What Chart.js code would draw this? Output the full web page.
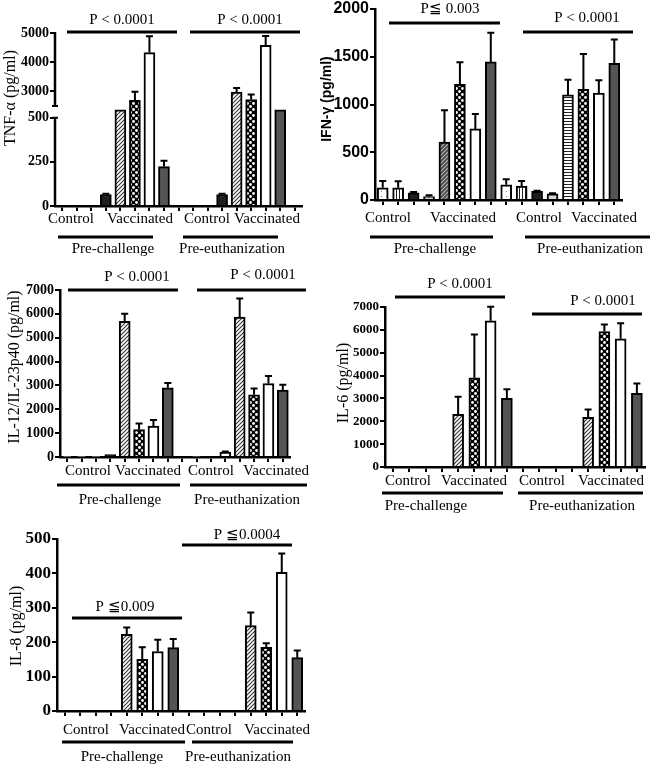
<!DOCTYPE html>
<html>
<head>
<meta charset="utf-8">
<script src="https://cdn.jsdelivr.net/npm/chart.js@4.4.1/dist/chart.umd.min.js"></script>
<style>
  html, body { margin: 0; padding: 0; background: #fff; }
  #fig { position: relative; width: 650px; height: 767px; overflow: hidden; }
  canvas { position: absolute; }
</style>
</head>
<body>
<div id="fig">
  <canvas id="tnf" width="320" height="260" style="left:0;top:0"></canvas>
  <canvas id="ifn" width="330" height="260" style="left:320px;top:0"></canvas>
  <canvas id="il12" width="330" height="250" style="left:0;top:260px"></canvas>
  <canvas id="il6" width="320" height="262" style="left:330px;top:260px"></canvas>
  <canvas id="il8" width="330" height="257" style="left:0;top:510px"></canvas>
</div>
<script>
// slots: 4 control + 4 vaccinated animals per time point
const slots16 = ['C1', 'C2', 'C3', 'C4', 'V1', 'V2', 'V3', 'V4', 'C1', 'C2', 'C3', 'C4', 'V1', 'V2', 'V3', 'V4'];
const slots17 = [...slots16, ''];
const armGroups = ['Control', 'Vaccinated'];
const timeGroups = ['Pre-challenge', 'Pre-euthanization'];

// TNF-a (pg/ml) - axis broken between 500 and 2500
const tnfTicks = [0, 250, 500, 3000, 4000, 5000];
const tnfMean = [null, null, null, 65, 1850, 2690, 4330, 223, null, null, null, 65, 2980, 2720, 4580, 1850, null];
const tnfErr = [0, 0, 0, 5, 0, 300, 560, 33, 0, 0, 0, 5, 140, 175, 320, 0, 0];
const tnfP = ['P < 0.0001', 'P < 0.0001'];

// IFN-g (pg/ml)
const ifnMean = [127, 127, 75, 35, 606, 1211, 744, 1446, 160, 145, 90, 65, 1100, 1160, 1120, 1430];
const ifnErr = [73, 70, 8, 15, 335, 232, 156, 305, 58, 55, 8, 5, 160, 370, 135, 250];
const ifnP = ['P\u2266 0.003', 'P < 0.0001'];

// IL-12/IL-23p40 (pg/ml)
const il12Mean = [20, 20, 20, 100, 5690, 1150, 1300, 2900, null, 30, null, 200, 5860, 2610, 3080, 2800];
const il12Err = [0, 0, 0, 0, 310, 250, 250, 200, 0, 0, 0, 30, 780, 265, 320, 230];
const il12P = ['P < 0.0001', 'P < 0.0001'];

// IL-6 (pg/ml)
const il6Mean = [null, null, null, null, 2300, 3900, 6400, 3000, null, null, null, null, 2170, 5930, 5610, 3220];
const il6Err = [0, 0, 0, 0, 770, 1900, 610, 400, 0, 0, 0, 0, 350, 300, 680, 430];
const il6P = ['P < 0.0001', 'P < 0.0001'];

// IL-8 (pg/ml)
const il8Mean = [null, null, null, null, 223, 150, 173, 184, null, null, null, null, 248, 185, 403, 155];
const il8Err = [0, 0, 0, 0, 20, 35, 34, 25, 0, 0, 0, 0, 38, 12, 55, 21];
const il8P = ['P \u22660.009', 'P \u22660.0004'];

// bar fills per slot
const tnfFills = ['white', 'white', 'white', 'black', 'hatch', 'check', 'white', 'grey', 'white', 'white', 'white', 'black', 'hatch', 'check', 'white', 'grey', 'white'];
const ifnFills = ['dots', 'vstripe', 'black', 'light', 'hatchDark', 'check', 'white', 'grey', 'dots', 'vstripe', 'black', 'light', 'hstripe', 'check', 'white', 'grey'];
const il12Fills = ['white', 'white', 'white', 'black', 'hatch', 'check', 'white', 'grey', 'white', 'white', 'white', 'white', 'hatch', 'check', 'white', 'grey'];
const vacFills = ['white', 'white', 'white', 'white', 'hatch', 'check', 'white', 'grey', 'white', 'white', 'white', 'white', 'hatch', 'check', 'white', 'grey'];

const serif = '"Liberation Serif", "Times New Roman", serif';
const sans = '"Liberation Sans", Arial, sans-serif';

function tnfMap(v) {
  if (v <= 500) return v;
  if (v < 2500) return 500 + (v - 500) / 2000 * 66;
  return 566 + (v - 2500) * 413 / 2500;
}

function fill(kind) {
  if (kind === 'white') return '#fff';
  if (kind === 'black') return '#1e1e1e';
  if (kind === 'grey') return '#545454';
  if (kind === 'light') return '#d6d6d6';
  const c = document.createElement('canvas');
  const size = (kind === 'check') ? 6 : (kind === 'dots' ? 5 : (kind.startsWith('hatch') ? 4 : 3));
  c.width = c.height = size;
  const g = c.getContext('2d');
  g.fillStyle = kind === 'check' ? '#000' : (kind === 'hatchDark' ? '#4a4a4a' : '#fff');
  g.fillRect(0, 0, size, size);
  if (kind === 'hatch' || kind === 'hatchDark') {
    g.strokeStyle = kind === 'hatch' ? '#333' : '#b0b0b0';
    g.lineWidth = 1.1;
    g.beginPath();
    g.moveTo(0, 4); g.lineTo(4, 0);
    g.moveTo(-1, 1); g.lineTo(1, -1);
    g.moveTo(3, 5); g.lineTo(5, 3);
    g.stroke();
  } else if (kind === 'check') {
    g.fillStyle = '#fff';
    g.beginPath(); g.arc(1.5, 1.5, 1.4, 0, Math.PI * 2); g.fill();
    g.beginPath(); g.arc(4.5, 4.5, 1.4, 0, Math.PI * 2); g.fill();
  } else if (kind === 'dots') {
    g.fillStyle = '#888';
    g.fillRect(1, 1, 1, 1);
  } else if (kind === 'vstripe') {
    g.fillStyle = '#222';
    g.fillRect(1, 0, 1, 3);
  } else if (kind === 'hstripe') {
    g.fillStyle = '#222';
    g.fillRect(0, 1, 3, 1);
  }
  return g.createPattern(c, 'repeat');
}

// error bars, P-value bars, axis titles and group labels
const decor = o => ({
  id: 'decor',
  afterDatasetsDraw(chart) {
    const ctx = chart.ctx;
    const ys = chart.scales.y;
    const map = o.map || (v => v);
    ctx.save();
    ctx.strokeStyle = '#000';
    ctx.lineWidth = 2;
    chart.getDatasetMeta(0).data.forEach((bar, i) => {
      const m = o.mean[i], e = o.err[i];
      if (m == null || !e) return;
      const yTop = ys.getPixelForValue(map(m + e));
      ctx.beginPath();
      ctx.moveTo(bar.x, bar.y);
      ctx.lineTo(bar.x, yTop);
      ctx.moveTo(bar.x - 3.5, yTop);
      ctx.lineTo(bar.x + 3.5, yTop);
      ctx.stroke();
    });
    ctx.restore();
  },
  afterDraw(chart) {
    const ctx = chart.ctx;
    const area = chart.chartArea;
    ctx.save();
    ctx.fillStyle = '#000';
    ctx.strokeStyle = '#000';
    if (o.broken) {
      const ys = chart.scales.y;
      const yHi = ys.getPixelForValue(o.map(2500));
      const yLo = ys.getPixelForValue(o.map(500));
      ctx.lineWidth = 2.5;
      ctx.beginPath();
      ctx.moveTo(area.left, area.top - 1); ctx.lineTo(area.left, yHi);
      ctx.moveTo(area.left, yLo); ctx.lineTo(area.left, area.bottom + 1);
      ctx.stroke();
      ctx.lineWidth = 2;
      ctx.beginPath();
      ctx.moveTo(area.left - 3, yHi); ctx.lineTo(area.left + 3, yHi);
      ctx.moveTo(area.left - 3, yLo); ctx.lineTo(area.left + 3, yLo);
      ctx.stroke();
    }
    // y title
    ctx.save();
    ctx.translate(o.title.x, o.title.y);
    ctx.rotate(-Math.PI / 2);
    ctx.font = o.title.font;
    ctx.textAlign = 'center';
    ctx.textBaseline = 'middle';
    ctx.fillText(o.title.text, 0, 0);
    ctx.restore();

    ctx.textAlign = 'center';
    ctx.textBaseline = 'middle';
    ctx.lineWidth = 3;
    ctx.font = '15px ' + serif;
    o.pBars.forEach(([x1, x2, y, tx, ty], i) => {
      ctx.beginPath(); ctx.moveTo(x1, y); ctx.lineTo(x2, y); ctx.stroke();
      ctx.fillText(o.p[i], tx, ty);
    });
    o.arms.forEach(([x, y], i) => ctx.fillText(armGroups[i % 2], x, y));
    o.lines.forEach(([x1, x2, y]) => {
      ctx.beginPath(); ctx.moveTo(x1, y); ctx.lineTo(x2, y); ctx.stroke();
    });
    o.times.forEach(([x, y], i) => ctx.fillText(timeGroups[i], x, y));
    ctx.restore();
  }
});

function panel(id, o) {
  const el = document.getElementById(id);
  const [L, T, R, B] = o.area;
  const xh = 6;
  const map = o.map || (v => v);
  const yTicks = {
    color: '#000', font: o.tickFont, padding: 1, stepSize: o.step,
    callback: o.ticks ? (v, i) => String(o.ticks[i]) : v => String(v)
  };
  return new Chart(el, {
    type: 'bar',
    data: {
      labels: o.labels,
      datasets: [{
        data: o.mean.map(v => v == null ? null : map(v)),
        backgroundColor: o.fills.map(fill),
        borderColor: '#000',
        borderWidth: 2,
        barThickness: 11
      }]
    },
    options: {
      responsive: false,
      animation: false,
      events: [],
      layout: {padding: {left: 0, top: T, right: el.width - R, bottom: el.height - B - xh}},
      plugins: {legend: {display: false}, tooltip: {enabled: false}},
      scales: {
        x: {
          grid: {offset: false, drawOnChartArea: false, color: '#000', lineWidth: 2, tickLength: 5},
          border: {color: '#000', width: 2.5},
          ticks: {display: false, autoSkip: false},
          afterFit: s => { s.height = xh; }
        },
        y: {
          min: 0,
          max: o.max,
          border: {display: !o.broken, color: '#000', width: 2.5},
          grid: {drawOnChartArea: false, color: '#000', lineWidth: 2, tickLength: 5},
          ticks: yTicks,
          afterBuildTicks: o.ticks ? s => { s.ticks = o.ticks.map(v => ({value: map(v)})); } : undefined,
          afterFit: s => { s.width = L; }
        }
      }
    },
    plugins: [decor(o)]
  });
}

panel('tnf', {
  labels: slots17, mean: tnfMean, err: tnfErr, fills: tnfFills,
  map: tnfMap, max: tnfMap(5000), ticks: tnfTicks, broken: true,
  area: [55, 33, 302, 206],
  tickFont: {family: serif, size: 14, weight: 'bold'},
  title: {text: 'TNF-\u03b1 (pg/ml)', x: 11, y: 98, font: '16px ' + serif},
  pBars: [[67, 177, 32, 122, 20], [190, 300, 32, 250, 20]], p: tnfP,
  arms: [[71, 219], [140, 219], [207, 219], [267, 219]],
  lines: [[58, 153, 237], [183, 278, 237]],
  times: [[113, 249], [232, 249]]
});

panel('ifn', {
  labels: slots16, mean: ifnMean, err: ifnErr, fills: ifnFills,
  max: 2000, step: 500,
  area: [55, 7, 302, 200],
  tickFont: {family: sans, size: 16, weight: 'bold', lineHeight: 1},
  title: {text: 'IFN-\u03b3 (pg/ml)', x: 7, y: 99, font: 'bold 14px ' + sans},
  pBars: [[69, 180, 23, 130, 9], [203, 313, 32, 267, 18]], p: ifnP,
  arms: [[68, 218], [143, 218], [219, 218], [284, 218]],
  lines: [[50, 173, 237], [205, 330, 237]],
  times: [[115, 249], [270, 249]]
});

panel('il12', {
  labels: slots16, mean: il12Mean, err: il12Err, fills: il12Fills,
  max: 7000, step: 1000,
  area: [60, 30, 290, 197],
  tickFont: {family: serif, size: 14, weight: 'bold'},
  title: {text: 'IL-12/IL-23p40 (pg/ml)', x: 15, y: 107, font: '16px ' + serif},
  pBars: [[68, 178, 30, 137, 17], [197, 306, 30, 263, 15]], p: il12P,
  arms: [[88, 211], [148, 211], [211, 211], [276, 211]],
  lines: [[57, 180, 225], [190, 307, 225]],
  times: [[120, 240], [247, 240]]
});

panel('il6', {
  labels: slots16, mean: il6Mean, err: il6Err, fills: vacFills,
  max: 7000, step: 1000,
  area: [55, 47, 315, 207],
  tickFont: {family: serif, size: 13, weight: 'bold'},
  title: {text: 'IL-6 (pg/ml)', x: 14, y: 123, font: '16px ' + serif},
  pBars: [[65, 175, 37, 130, 24], [202, 312, 54, 273, 41]], p: il6P,
  arms: [[78, 221], [144, 221], [212, 221], [281, 221]],
  lines: [[52, 173, 233], [188, 313, 233]],
  times: [[96, 246], [252, 246]]
});

panel('il8', {
  labels: slots16, mean: il8Mean, err: il8Err, fills: vacFills,
  max: 500, step: 100,
  area: [57, 29, 305, 201],
  tickFont: {family: serif, size: 17, weight: 'bold'},
  title: {text: 'IL-8 (pg/ml)', x: 17, y: 116, font: '16px ' + serif},
  pBars: [[72, 182, 108, 125, 97], [182, 292, 35, 247, 25]], p: il8P,
  arms: [[86, 220], [152, 220], [209, 220], [277, 220]],
  lines: [[62, 185, 232], [192, 293, 232]],
  times: [[122, 247], [238, 247]]
});
</script>
</body>
</html>
